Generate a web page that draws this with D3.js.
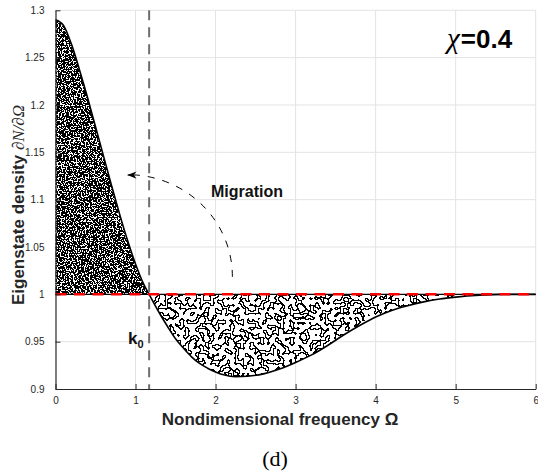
<!DOCTYPE html>
<html>
<head>
<meta charset="utf-8">
<script src="https://cdn.jsdelivr.net/npm/d3@7"></script>
<style>
  body { margin: 0; background: #fff; }
  svg text { font-family: "Liberation Sans", Arial, sans-serif; }
</style>
</head>
<body>
<div id="chart"></div>
<script>
// eigenstate density
const omega = [0, 0.1, 0.2, 0.3, 0.4, 0.5, 0.6, 0.7, 0.8, 0.9, 1.0, 1.1, 1.17,
  1.3, 1.4, 1.5, 1.6, 1.7, 1.8, 1.9, 2.0, 2.1, 2.25, 2.4, 2.6, 2.8, 3.0, 3.2, 3.4,
  3.6, 3.8, 4.0, 4.2, 4.4, 4.6, 4.8, 5.0, 5.3, 5.6, 6.0];
const density = [1.29, 1.284, 1.264, 1.237, 1.208, 1.177, 1.146, 1.115, 1.085, 1.057, 1.032, 1.011, 1.0,
  0.98, 0.966, 0.953, 0.943, 0.934, 0.927, 0.922, 0.918, 0.915, 0.913, 0.9135, 0.916, 0.921, 0.928, 0.936, 0.946,
  0.957, 0.967, 0.976, 0.983, 0.988, 0.992, 0.995, 0.997, 0.999, 1.0, 1.0];
const k0 = 1.17;
const baseline = 1.0;
const xTicks = [0, 1, 2, 3, 4, 5, 6];
const yTicks = [0.9, 0.95, 1, 1.05, 1.1, 1.15, 1.2, 1.25, 1.3];
// migration arrow: from [omega, density] to [omega, density]
const arrowFrom = [2.21, 1.0185];
const arrowTo = [0.9, 1.126];

const W = 538, H = 474;
const x = d3.scaleLinear([0, 6], [55.5, 535.7]);
const y = d3.scaleLinear([0.9, 1.3], [389, 10.3]);

const svg = d3.select('#chart').append('svg')
  .attr('width', W).attr('height', H);

const defs = svg.append('defs');

function noiseFilter(id, freq, oct, seed, table) {
  const f = defs.append('filter').attr('id', id)
    .attr('filterUnits', 'userSpaceOnUse')
    .attr('x', 50).attr('y', 5).attr('width', 490).attr('height', 390)
    .attr('color-interpolation-filters', 'sRGB');
  f.append('feTurbulence').attr('type', 'fractalNoise')
    .attr('baseFrequency', freq).attr('numOctaves', oct).attr('seed', seed);
  f.append('feColorMatrix').attr('type', 'matrix')
    .attr('values', '1 0 0 0 0  1 0 0 0 0  1 0 0 0 0  0 0 0 0 1');
  const ct = f.append('feComponentTransfer').attr('result', 'bin');
  ['feFuncR', 'feFuncG', 'feFuncB'].forEach(n =>
    ct.append(n).attr('type', 'discrete').attr('tableValues', table));
  return f;
}
// stipple: mostly black with white specks
noiseFilter('stip', 0.75, 2, 3, d3.range(40).map(i => i < 22 ? 0 : 1).join(' '));
// labyrinth: outlines of thresholded noise blobs
const lf = noiseFilter('laby', 0.2, 1, 7, '0 1');
lf.append('feMorphology').attr('in', 'bin').attr('operator', 'dilate')
  .attr('radius', 0.6).attr('result', 'dil');
lf.append('feBlend').attr('in', 'dil').attr('in2', 'bin').attr('mode', 'difference');
lf.append('feColorMatrix').attr('type', 'matrix')
  .attr('values', '-1 0 0 0 1  -1 0 0 0 1  -1 0 0 0 1  0 0 0 0 1');

const iK = omega.indexOf(k0);
const pts = omega.map((o, i) => [o, density[i]]);
const leftPts = pts.slice(0, iK + 1);
const rightPts = pts.slice(iK);

const area = d3.area()
  .x(d => x(d[0])).y0(y(baseline)).y1(d => y(d[1]))
  .curve(d3.curveMonotoneX);
const line = d3.line()
  .x(d => x(d[0])).y(d => y(d[1]))
  .curve(d3.curveMonotoneX);

defs.append('clipPath').attr('id', 'clipL').append('path').attr('d', area(leftPts));
defs.append('clipPath').attr('id', 'clipR').append('path').attr('d', area(rightPts));

// grid
const grid = svg.append('g').attr('stroke', '#e3e3e3').attr('stroke-width', 1);
grid.selectAll('.gx').data(xTicks.slice(1)).join('line')
  .attr('x1', d => x(d)).attr('x2', d => x(d))
  .attr('y1', y(0.9)).attr('y2', y(1.3));
grid.selectAll('.gy').data(yTicks.slice(1)).join('line')
  .attr('x1', x(0)).attr('x2', x(6))
  .attr('y1', d => y(d)).attr('y2', d => y(d));

// filled regions
svg.append('rect').attr('x', 50).attr('y', 5).attr('width', 490).attr('height', 390)
  .attr('filter', 'url(#stip)').attr('clip-path', 'url(#clipL)');
svg.append('rect').attr('x', 50).attr('y', 5).attr('width', 490).attr('height', 390)
  .attr('filter', 'url(#laby)').attr('clip-path', 'url(#clipR)');

// curve and baseline
svg.append('path').attr('d', line(pts))
  .attr('fill', 'none').attr('stroke', '#000').attr('stroke-width', 1.6);
svg.append('line')
  .attr('x1', x(0)).attr('x2', x(6)).attr('y1', y(baseline)).attr('y2', y(baseline))
  .attr('stroke', '#000').attr('stroke-width', 1.4);
svg.append('line')
  .attr('x1', x(0)).attr('x2', x(6)).attr('y1', y(baseline)).attr('y2', y(baseline))
  .attr('stroke', '#ff0000').attr('stroke-width', 2.5).attr('stroke-dasharray', '11 7.5');

// k0 line
svg.append('line')
  .attr('x1', x(k0)).attr('x2', x(k0)).attr('y1', y(1.3)).attr('y2', y(0.9))
  .attr('stroke', '#6e6e6e').attr('stroke-width', 2).attr('stroke-dasharray', '10 7');

// migration arrow
defs.append('marker').attr('id', 'ah')
  .attr('viewBox', '0 0 10 10').attr('refX', 10).attr('refY', 5)
  .attr('markerWidth', 9).attr('markerHeight', 9).attr('markerUnits', 'userSpaceOnUse')
  .attr('orient', 'auto')
  .append('path').attr('d', 'M0,1 L10,5 L0,9 L3,5 Z').attr('fill', '#000');
const ax0 = x(arrowFrom[0]), ay0 = y(arrowFrom[1]);
const ax1 = x(arrowTo[0]), ay1 = y(arrowTo[1]);
svg.append('path')
  .attr('d', `M${ax0},${ay0} A${ax0 - ax1},${ay0 - ay1} 0 0 0 ${ax1 + 9},${ay1}`)
  .attr('fill', 'none').attr('stroke', '#000').attr('stroke-width', 1)
  .attr('stroke-dasharray', '7 8');
svg.append('line')
  .attr('x1', ax1 + 9).attr('y1', ay1).attr('x2', ax1).attr('y2', ay1)
  .attr('stroke', '#000').attr('stroke-width', 1)
  .attr('marker-end', 'url(#ah)');

// axes
const axC = '#262626';
const xAxis = d3.axisBottom(x).tickValues(xTicks).tickFormat(d3.format('d'))
  .tickSizeInner(-5).tickSizeOuter(0).tickPadding(8);
const gx = svg.append('g').attr('transform', `translate(0,${y(0.9)})`).call(xAxis);
const yAxis = d3.axisLeft(y).tickValues(yTicks).tickFormat(d => String(d))
  .tickSizeInner(-5).tickSizeOuter(0).tickPadding(11);
const gy = svg.append('g').attr('transform', `translate(${x(0)},0)`).call(yAxis);
[gx, gy].forEach(g => {
  g.select('.domain').attr('stroke', axC).attr('stroke-width', 1.2);
  g.selectAll('.tick line').attr('stroke', axC);
  g.selectAll('.tick text').attr('fill', axC)
    .style('font-family', '"Liberation Sans", Arial, sans-serif').style('font-size', '10px');
});

// labels
svg.append('text').attr('x', 280).attr('y', 425).attr('text-anchor', 'middle')
  .style('font-size', '17px').style('font-weight', 'bold').attr('fill', axC)
  .text('Nondimensional frequency Ω');

const yl = svg.append('text').attr('transform', 'translate(24,205) rotate(-90)')
  .attr('text-anchor', 'middle').attr('fill', axC).style('font-size', '17px');
yl.append('tspan').style('font-weight', 'bold').text('Eigenstate density ');
yl.append('tspan').style('font-style', 'italic')
  .style('font-family', '"Liberation Serif", serif').text('∂N/∂Ω');

svg.append('text').attr('x', 275).attr('y', 466).attr('text-anchor', 'middle')
  .style('font-family', '"Liberation Serif", "Times New Roman", serif').style('font-size', '22px')
  .text('(d)');

svg.append('text').attr('x', 211).attr('y', 197)
  .style('font-size', '16px').style('font-weight', 'bold').attr('fill', '#111')
  .text('Migration');

const kt = svg.append('text').attr('x', 128).attr('y', 344)
  .style('font-weight', 'bold').attr('fill', '#111');
kt.append('tspan').style('font-size', '17px').text('k');
kt.append('tspan').attr('dy', 4).style('font-size', '11px').text('0');

const ct = svg.append('text').attr('x', 447).attr('y', 48).attr('fill', '#000');
ct.append('tspan').style('font-family', '"Liberation Serif", serif').style('font-style', 'italic')
  .style('font-size', '29px').text('χ');
ct.append('tspan').style('font-weight', 'bold').style('font-size', '26px').attr('dx', 1).text('=0.4');
</script>
</body>
</html>
